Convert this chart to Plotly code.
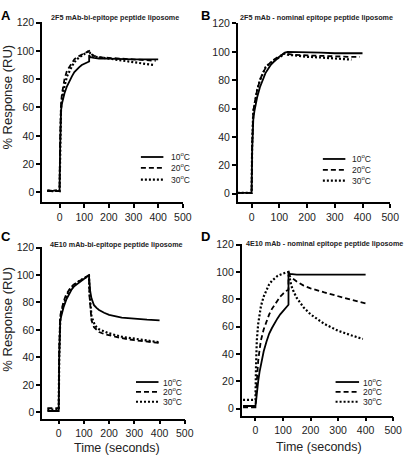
import plotly.graph_objects as go

W, H = 416, 459

# ---------------- data ----------------
base_t = [-50, -40, -30, -20, -10, 0]

# Panel A: 2F5 mAb - bi-epitope peptide liposome
a10_t = base_t + [2, 4, 6, 10, 15, 20, 30, 40, 50, 60, 70, 80, 90, 100, 110, 120, 120, 125, 140, 160, 200, 250, 300, 350, 400]
a10_y = [1, 1.5, 1, 1.5, 1, 1, 30, 50, 58, 63, 67, 70, 75, 79, 82, 85, 87, 88.5, 90, 91, 92, 92.5, 97, 95.5, 95, 94.5, 94.5, 94, 94, 94, 94]
a20_t = base_t + [2, 4, 6, 10, 15, 20, 30, 40, 50, 60, 70, 80, 90, 100, 110, 120, 125, 130, 140, 160, 200, 250, 300, 350, 390]
a20_y = [1, 1, 1.5, 1, 1, 1, 35, 55, 63, 70, 75, 80, 86, 89, 92, 94, 95.5, 96.5, 97.5, 98.5, 99, 100, 98.5, 97.5, 96.5, 95.5, 95, 94.5, 94, 93.5, 93]
a30_t = base_t + [2, 4, 6, 10, 15, 20, 30, 40, 50, 60, 70, 80, 90, 100, 110, 120, 125, 130, 140, 160, 200, 250, 300, 340, 380]
a30_y = [1.5, 1, 1, 1, 1.5, 1, 30, 50, 60, 66, 71, 75, 82, 86, 89, 92, 94, 95.5, 96.5, 97.5, 98.5, 100, 98, 97, 96, 95.5, 94.5, 93, 92, 91, 90]

# Panel B: 2F5 mAb - nominal epitope peptide liposome
b10_t = base_t + [2, 4, 6, 10, 15, 20, 30, 40, 50, 60, 70, 80, 90, 100, 110, 120, 130, 150, 200, 250, 300, 350, 400]
b10_y = [0.5, 0.5, 0.5, 0.5, 0.5, 0.5, 30, 45, 52, 58, 64, 68, 75, 80, 85, 88, 91, 93, 95, 96.5, 98, 99.5, 100, 100, 99.5, 99.5, 99, 99, 99]
b20_t = base_t + [2, 4, 6, 10, 15, 20, 30, 40, 50, 60, 70, 80, 90, 100, 110, 120, 130, 150, 200, 250, 300, 350, 390]
b20_y = [0.5, 0.5, 0.5, 0.5, 0.5, 0.5, 35, 50, 58, 63, 69, 73, 80, 85, 88.5, 91, 93, 94.5, 96, 97, 98, 99, 98.5, 98, 97.5, 97, 97, 96.5, 96.5]
b30_t = base_t + [2, 4, 6, 10, 15, 20, 30, 40, 50, 60, 70, 80, 90, 100, 110, 120, 130, 150, 200, 250, 300, 360]
b30_y = [0.5, 0.5, 0.5, 0.5, 0.5, 0.5, 35, 50, 58, 62, 68, 73, 80, 85, 89, 91, 92.5, 93.5, 95, 96, 97.5, 99, 98, 97.5, 96.5, 96, 95.5, 94.5]

# Panel C: 4E10 mAb - bi-epitope peptide liposome
c_base_t = [-45, -35, -25, -15, -5, 0]
c10_t = c_base_t + [2, 4, 6, 10, 15, 20, 30, 40, 50, 60, 70, 80, 90, 100, 110, 120, 122, 125, 130, 140, 150, 160, 180, 200, 250, 300, 350, 400]
c10_y = [1, 1, 1, 1, 1, 1, 40, 60, 66, 70, 74, 77, 82, 86, 89, 91.5, 93, 94.5, 96, 97, 98.5, 99.5, 94, 88, 83, 78, 76, 74.5, 72.5, 71, 69, 68, 67.5, 67]
c20_t = c_base_t + [2, 4, 6, 10, 15, 20, 30, 40, 50, 60, 70, 80, 90, 100, 110, 120, 122, 125, 130, 140, 150, 160, 180, 200, 250, 300, 350, 400]
c20_y = [3, 3, 3, 3, 3, 3, 45, 65, 70, 74, 78, 81, 86, 89, 91.5, 93, 94.5, 95.5, 96.5, 97.5, 98.5, 100, 85, 75, 67, 62, 60, 58.5, 57, 56, 54, 52.5, 51.5, 50.5]
c30_t = c_base_t + [2, 4, 6, 10, 15, 20, 30, 40, 50, 60, 70, 80, 90, 100, 110, 120, 122, 125, 130, 140, 150, 160, 180, 200, 250, 300, 350, 400]
c30_y = [2, 2, 2, 2, 2, 2, 40, 62, 68, 72, 76, 79, 84, 88, 90.5, 92.5, 94, 95.5, 96.5, 97.5, 98.5, 99.5, 88, 78, 70, 65, 62, 60.5, 59, 57.5, 55, 53.5, 52, 51]

# Panel D: 4E10 mAb - nominal epitope peptide liposome
d10_t = c_base_t + [2, 5, 10, 15, 20, 30, 40, 50, 60, 70, 80, 90, 100, 110, 120, 120, 125, 150, 200, 300, 400]
d10_y = [2, 2, 2, 2, 2, 2, 5, 12, 20, 27, 33, 42, 49, 55, 59, 63, 66, 69, 71.5, 73.5, 76, 100, 98.5, 98, 98, 98, 98]
d20_t = c_base_t + [2, 5, 10, 15, 20, 30, 40, 50, 60, 70, 80, 90, 100, 110, 120, 120, 130, 150, 175, 200, 250, 300, 350, 400]
d20_y = [1, 1, 1, 1, 1, 1, 10, 22, 35, 43, 50, 58, 64, 69, 73, 76, 79, 82, 84, 86, 87, 98, 96, 93, 90, 88, 85, 82, 79.5, 77]
d30_t = c_base_t + [2, 5, 10, 15, 20, 30, 40, 50, 60, 70, 80, 90, 100, 110, 120, 125, 130, 140, 150, 175, 200, 250, 300, 350, 390]
d30_y = [6.5, 6.5, 6.5, 6.5, 6.5, 6.5, 30, 50, 62, 70, 75, 82, 87, 91, 93.5, 95.5, 97, 98, 99, 99.5, 100, 95, 90, 85, 81, 74, 69, 62, 57, 53.5, 51]

titles = ["2F5 mAb-bi-epitope peptide liposome",
          "2F5 mAb - nominal epitope peptide liposome",
          "4E10 mAb-bi-epitope peptide liposome",
          "4E10 mAb - nominal epitope peptide liposome"]
letters = ["A", "B", "C", "D"]
temps = ["10<sup>o</sup>C", "20<sup>o</sup>C", "30<sup>o</sup>C"]
x_ticks = [0, 100, 200, 300, 400, 500]
y_ticks = [0, 20, 40, 60, 80, 100, 120]
y_title = "% Response (RU)"
x_title = "Time (seconds)"

panels = [
    [(a10_t, a10_y), (a20_t, a20_y), (a30_t, a30_y)],
    [(b10_t, b10_y), (b20_t, b20_y), (b30_t, b30_y)],
    [(c10_t, c10_y), (c20_t, c20_y), (c30_t, c30_y)],
    [(d10_t, d10_y), (d20_t, d20_y), (d30_t, d30_y)],
]

# ---------------- layout geometry (pixels) ----------------
def px(x):
    return x / W

def py(y):
    return 1 - y / H

# (left, right, top, bottom) pixel boxes, x range, y range
boxes = [
    (43, 187, 16, 199, [-71, 500.5], [-7, 120.5]),
    (243, 399, 17, 199, [-50, 500.5], [-6.2, 120.5]),
    (43, 189, 244, 418, [-66, 500.5], [-4.5, 120.5]),
    (247, 402, 241, 415, [-50, 500.5], [-5, 120.5]),
]
title_pos = [(118, 12), (323, 12), (119, 242), (332, 241)]
letter_pos = [(6, 10), (210, 10), (6, 234), (210, 234)]
legend_pos = [(144, 167, 173, [153, 164, 176]),
              (330, 353, 358, [155, 166, 177]),
              (139, 162, 165, [381, 391, 401]),
              (343, 367, 369, [381, 391, 401])]
xtitle_pos = [(120, 448), (326, 447)]
ytitle_pos = [(8, 92), (8, 317)]

dashes = ["solid", "5px,3px", "2px,2px"]
widths = [1.8, 1.8, 2.2]
FONT = "Liberation Sans, Arial, sans-serif"

fig = go.Figure()
layout = dict(width=W, height=H, margin=dict(l=0, r=0, t=0, b=0),
              plot_bgcolor="white", paper_bgcolor="white", showlegend=False)
annotations = []
shapes = []

for i, (curves, box) in enumerate(zip(panels, boxes)):
    l, r, t, b, xr, yr = box
    xa = "x" if i == 0 else f"x{i+1}"
    ya = "y" if i == 0 else f"y{i+1}"
    for j, (tt, yy) in enumerate(curves):
        fig.add_trace(go.Scatter(x=tt, y=yy, mode="lines", xaxis=xa, yaxis=ya,
                                 line=dict(color="black", width=widths[j], dash=dashes[j])))
    axis_common = dict(showline=True, linecolor="black", linewidth=1.5, ticks="outside",
                       ticklen=4, tickwidth=1.5, tickcolor="black", showgrid=False,
                       zeroline=False, tickfont=dict(family=FONT, size=10.5, color="#222"))
    xkey = "xaxis" if i == 0 else f"xaxis{i+1}"
    ykey = "yaxis" if i == 0 else f"yaxis{i+1}"
    layout[xkey] = dict(domain=[px(l), px(r)], range=xr, tickvals=x_ticks,
                        anchor=ya, **axis_common)
    layout[ykey] = dict(domain=[py(b), py(t)], range=yr, tickvals=y_ticks,
                        anchor=xa, **axis_common)
    tx, ty = title_pos[i]
    annotations.append(dict(text=f"<b>{titles[i]}</b>", x=px(tx), y=py(ty), xref="paper", yref="paper",
                            showarrow=False, font=dict(family=FONT, size=7.2, color="#222"),
                            xanchor="center", yanchor="middle"))
    lx, ly = letter_pos[i]
    annotations.append(dict(text=f"<b>{letters[i]}</b>", x=px(lx), y=py(ly), xref="paper", yref="paper",
                            showarrow=False, font=dict(family=FONT, size=13, color="black"),
                            xanchor="center", yanchor="middle"))
    x0, x1, xt, rows = legend_pos[i]
    for j, ry in enumerate(rows):
        shapes.append(dict(type="line", xref="paper", yref="paper", x0=px(x0), x1=px(x1),
                           y0=py(ry), y1=py(ry),
                           line=dict(color="black", width=widths[j], dash=dashes[j])))
        annotations.append(dict(text=temps[j], x=px(xt), y=py(ry), xref="paper", yref="paper",
                                showarrow=False, font=dict(family=FONT, size=8.5, color="#222"),
                                xanchor="left", yanchor="middle"))

for cx, cy in ytitle_pos:
    annotations.append(dict(text=y_title, x=px(cx), y=py(cy), xref="paper", yref="paper",
                            showarrow=False, textangle=-90,
                            font=dict(family=FONT, size=13, color="#222"),
                            xanchor="center", yanchor="middle"))
for cx, cy in xtitle_pos:
    annotations.append(dict(text=x_title, x=px(cx), y=py(cy), xref="paper", yref="paper",
                            showarrow=False, font=dict(family=FONT, size=12.5, color="#222"),
                            xanchor="center", yanchor="middle"))

layout["annotations"] = annotations
layout["shapes"] = shapes
fig.update_layout(**layout)
fig.write_html("out.html", config={"displayModeBar": False},
               post_script="document.body.style.margin='0';document.body.style.overflow='hidden';")
